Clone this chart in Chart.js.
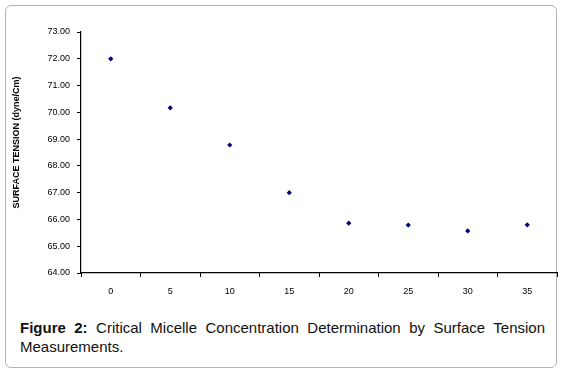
<!DOCTYPE html>
<html>
<head>
<meta charset="utf-8">
<script src="https://cdn.jsdelivr.net/npm/chart.js@4/dist/chart.umd.min.js"></script>
<style>
  html, body { margin: 0; padding: 0; background: #fff; }
  #wrap { position: relative; width: 566px; height: 376px; overflow: hidden; }
  #box { position: absolute; left: 5px; top: 5px; width: 550px; height: 361px;
         border: 1.5px solid #b4b4b4; border-radius: 6px; }
  #c { position: absolute; left: 0; top: 0; }
  #cap { position: absolute; left: 20px; top: 318px; width: 525px;
         font-family: 'Liberation Sans', Arial, sans-serif; font-size: 15px;
         line-height: 19px; text-align: justify; color: #111; }
</style>
</head>
<body>
<div id="wrap">
  <div id="box"></div>
  <canvas id="c" width="566" height="305"></canvas>
  <div id="cap"><b>Figure 2:</b> Critical Micelle Concentration Determination by Surface Tension Measurements.</div>
</div>
<script>
const categories = ['0', '5', '10', '15', '20', '25', '30', '35'];
const surfaceTension = [72.0, 70.17, 68.78, 67.0, 65.86, 65.79, 65.57, 65.8];
const yTitle = 'SURFACE TENSION (dyne/Cm)';
const yMin = 64, yMax = 73, yStep = 1;

const font = { family: "'Liberation Sans', Arial, sans-serif", size: 9 };

// shift the y-axis title slightly upward, as in the reference
const titleShift = {
  id: 'titleShift',
  afterLayout(chart) {
    const s = chart.scales.y;
    if (s && !s._shifted) {
      const orig = s.drawTitle.bind(s);
      s.drawTitle = function () {
        const ctx = chart.ctx;
        ctx.save();
        ctx.translate(0, -10);
        orig();
        ctx.restore();
      };
      s._shifted = true;
    }
  }
};

new Chart(document.getElementById('c'), {
  type: 'line',
  data: {
    labels: categories,
    datasets: [{
      data: surfaceTension,
      showLine: false,
      pointStyle: 'rectRot',
      pointRadius: 2.6,
      pointHoverRadius: 2.6,
      pointBackgroundColor: '#00007a',
      pointBorderColor: '#00007a',
      borderWidth: 0
    }]
  },
  plugins: [titleShift],
  options: {
    responsive: false,
    animation: false,
    devicePixelRatio: 1,
    layout: { padding: { left: 0, right: 9, top: 32, bottom: 0 } },
    plugins: { legend: { display: false }, tooltip: { enabled: false } },
    scales: {
      x: {
        type: 'category',
        offset: true,
        grid: { offset: true, drawOnChartArea: false, drawTicks: true, tickLength: 4, color: '#000', lineWidth: 1 },
        border: { color: '#000', width: 1.2 },
        ticks: { font: font, color: '#000', padding: 9, maxRotation: 0 },
        afterFit: s => { s.height = 32; }
      },
      y: {
        min: yMin, max: yMax,
        grid: { drawOnChartArea: false, drawTicks: true, tickLength: 4, color: '#000', lineWidth: 1 },
        border: { color: '#000', width: 1.2 },
        ticks: { stepSize: yStep, font: font, color: '#000', padding: 7,
                 callback: v => Number(v).toFixed(2) },
        title: { display: true, text: yTitle, color: '#000',
                 font: { family: font.family, size: 9, weight: 'bold' },
                 padding: { top: 11, bottom: 0 } },
        afterFit: s => { s.width = 81; }
      }
    }
  }
});
</script>
</body>
</html>
